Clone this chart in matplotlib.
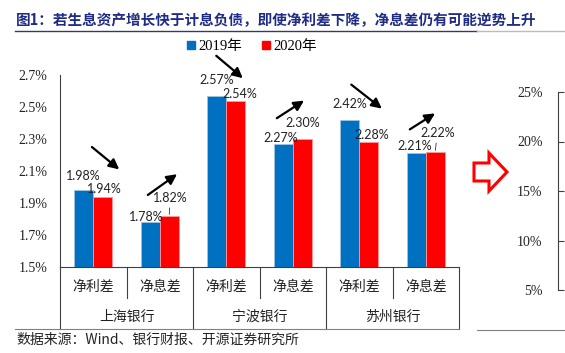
import numpy as np
import matplotlib.pyplot as plt
from matplotlib.patches import Polygon
from matplotlib.lines import Line2D
from matplotlib.transforms import blended_transform_factory

# 数据
banks = ['上海银行', '宁波银行', '苏州银行']
metrics = ['净利差', '净息差']
v2019 = [1.98, 1.78, 2.57, 2.27, 2.42, 2.21]
v2020 = [1.94, 1.82, 2.54, 2.30, 2.28, 2.22]
left_ticks = [1.5, 1.7, 1.9, 2.1, 2.3, 2.5, 2.7]
right_ticks = [5, 10, 15, 20, 25]

# 数据标签偏移 (像素) 和趋势箭头 (起点, 终点)
off19 = [(0, 8), (-4, -1), (0, 10), (-3, 0), (0, 10), (-2, 1)]
off20 = [(2, 2), (1, 12), (4, 1), (0, 10), (3, 1), (2, 13)]
arrows = [((-0.02, 2.25), (0.39, 2.11)), ((0.82, 1.95), (1.26, 2.08)),
          ((1.85, 2.82), (2.25, 2.68)), ((2.76, 2.43), (3.17, 2.54)),
          ((3.88, 2.64), (4.34, 2.49)), ((4.76, 2.36), (5.14, 2.46))]

BLUE, RED = '#0070C0', '#FF0000'
CJK = ['Noto Sans CJK SC', 'DejaVu Sans']
SERIF = ['Liberation Serif', 'Noto Sans CJK SC']

W, H = 565, 353
fig = plt.figure(figsize=(5.65, 3.53), dpi=100)


def fx(px):
    return px / W


def fy(py):
    return 1 - py / H


ax = fig.add_axes([fx(60), fy(267), fx(459) - fx(60), fy(75) - fy(267)])
x = np.arange(len(v2019))
w = 0.285
ax.bar(x - w / 2, v2019, w, color=BLUE, edgecolor='#9DC3E6', linewidth=0.6)
ax.bar(x + w / 2, v2020, w, color=RED, edgecolor='#FF9999', linewidth=0.6)
ax.set_xlim(-0.5, 5.5)
ax.set_ylim(1.5, 2.7)
ax.set_yticks(left_ticks)
ax.set_yticklabels(['%.1f%%' % t for t in left_ticks])
ax.tick_params(axis='y', length=0, pad=9, labelsize=10, labelcolor='#222222',
               labelfontfamily='Liberation Serif')
ax.set_xticks([])
for s in ['top', 'right']:
    ax.spines[s].set_visible(False)
for s in ['left', 'bottom']:
    ax.spines[s].set_color('#404040')
    ax.spines[s].set_linewidth(0.8)

# 数据标签
for i in range(len(x)):
    ax.annotate('%.2f%%' % v2019[i], (x[i] - w / 2, v2019[i]), xytext=off19[i],
                textcoords='offset pixels', ha='center', va='bottom',
                fontsize=9, family='Lato', color='#222222')
    props = None
    if off20[i][1] > 11:
        props = dict(arrowstyle='-', lw=0.6, color='#333333', shrinkA=1, shrinkB=1)
    ax.annotate('%.2f%%' % v2020[i], (x[i] + w / 2, v2020[i]), xytext=off20[i],
                textcoords='offset pixels', ha='center', va='bottom',
                fontsize=9, family='Lato', color='#222222', arrowprops=props)

# 趋势箭头
for (p0, p1) in arrows:
    ax.annotate('', xy=p1, xytext=p0, annotation_clip=False,
                arrowprops=dict(arrowstyle='-|>,head_length=0.6,head_width=0.3',
                                lw=1.6, color='black', shrinkA=0, shrinkB=0))

# 多级分类轴
tr = blended_transform_factory(ax.transData, ax.transAxes)
for i in range(len(x)):
    ax.text(x[i], -0.105, metrics[i % 2], transform=tr, ha='center', va='center',
            fontsize=10, family=CJK, color='#222222')
for g, name in enumerate(banks):
    ax.text(2 * g + 0.5, -0.26, name, transform=tr, ha='center', va='center',
            fontsize=10, family=CJK, color='#222222')
for b in np.arange(-0.5, 5.6, 1.0):
    long_line = int(round(b + 0.5)) % 2 == 0
    y0 = -0.323 if long_line else -0.161
    ax.add_line(Line2D([b, b], [0, y0], transform=tr, color='#404040', lw=0.8, clip_on=False))

# 右侧坐标轴 (另一张图的局部)
ax2 = fig.add_axes([fx(558), fy(290), fx(6), fy(92) - fy(290)])
ax2.set_ylim(5, 25)
ax2.set_yticks(right_ticks)
ax2.set_yticklabels(['%d%%' % t for t in right_ticks])
ax2.tick_params(axis='y', direction='in', length=4, pad=11, color='#404040',
                labelsize=10, labelcolor='#222222', labelfontfamily='Liberation Serif')
ax2.set_xticks([])
for s in ['top', 'right', 'bottom']:
    ax2.spines[s].set_visible(False)
ax2.spines['left'].set_color('#404040')
ax2.spines['left'].set_linewidth(0.8)
ax2.patch.set_alpha(0)

# 红色空心箭头
pts = [(474, 163), (489, 163), (489, 153), (507, 172), (489, 191), (489, 181), (474, 181)]
fig.patches.append(Polygon([(fx(a), fy(b)) for a, b in pts], closed=True,
                           transform=fig.transFigure, facecolor='white',
                           edgecolor=RED, lw=2.2))

# 图例
h1 = Line2D([], [], marker='s', ls='', color=BLUE, markersize=6)
h2 = Line2D([], [], marker='s', ls='', color=RED, markersize=6)
fig.legend([h1, h2], ['2019年', '2020年'], loc='center', bbox_to_anchor=(fx(251), fy(46)),
           ncol=2, frameon=False, handlelength=0.8, handletextpad=0.1, columnspacing=1.2,
           prop={'family': SERIF, 'size': 10.5})

# 标题、来源与分隔线
fig.text(fx(16), fy(20), '图1：若生息资产增长快于计息负债，即使净利差下降，净息差仍有可能逆势上升',
         ha='left', va='center', fontsize=10.5, fontweight='bold', color='#1F2C86', family=CJK)
fig.text(fx(16), fy(340), '数据来源：Wind、银行财报、开源证券研究所', ha='left', va='center',
         fontsize=10, family=CJK, color='#222222')
fig.add_artist(Line2D([fx(15), fx(477)], [fy(31), fy(31)], transform=fig.transFigure,
                      color='#2E3B6E', lw=1.0))
fig.add_artist(Line2D([fx(477), 1], [fy(31), fy(31)], transform=fig.transFigure,
                      color='#BBBBBB', lw=1.0))
fig.add_artist(Line2D([fx(15), fx(459)], [fy(329), fy(329)], transform=fig.transFigure,
                      color='#808080', lw=0.8))
fig.add_artist(Line2D([fx(477), 1], [fy(330), fy(330)], transform=fig.transFigure,
                      color='#808080', lw=0.8))

fig.savefig('out.png', dpi=100)
